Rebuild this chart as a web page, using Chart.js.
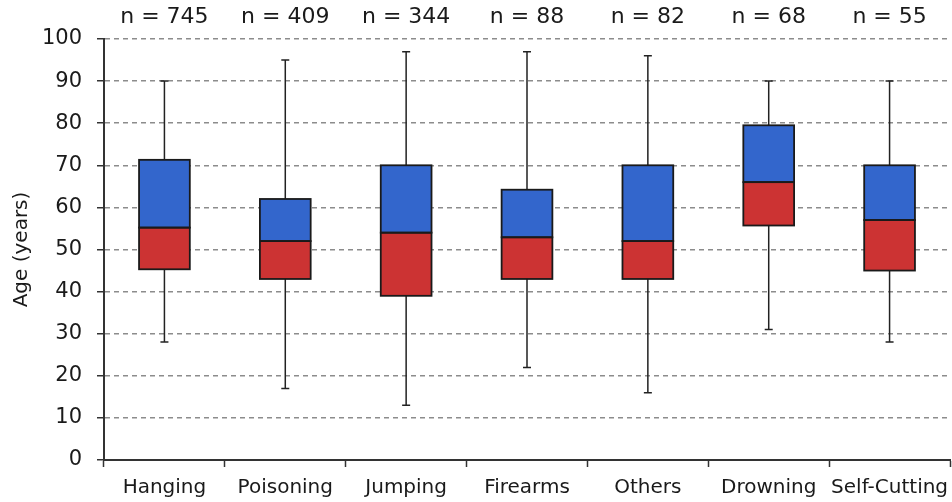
<!DOCTYPE html>
<html>
<head>
<meta charset="utf-8">
<script src="https://cdn.jsdelivr.net/npm/chart.js@4/dist/chart.umd.min.js"></script>
<style>
  body { margin: 0; background: #fff; }
  #wrap { width: 952px; height: 502px; }
</style>
</head>
<body>
<div id="wrap"><canvas id="box" width="952" height="502"></canvas></div>
<script>
// categories and sample sizes
const methods = ['Hanging', 'Poisoning', 'Jumping', 'Firearms', 'Others', 'Drowning', 'Self-Cutting'];
const counts = [745, 409, 344, 88, 82, 68, 55];

// box plot statistics
const mins    = [28, 17, 13, 22, 16, 31, 28];
const q1s     = [45.3, 43, 39, 43, 43, 55.7, 45];
const medians = [55.2, 52, 54, 52.9, 52, 66, 57];
const q3s     = [71.3, 62, 70, 64.2, 70, 79.5, 70];
const maxs    = [90, 95, 97, 97, 96, 90, 90];

const yTicks = [0, 10, 20, 30, 40, 50, 60, 70, 80, 90, 100];

const FONT = 'DejaVu Sans';

// whiskers, drawn behind the boxes
const whiskerPlugin = {
    id: 'whiskers',
    beforeDatasetsDraw(chart) {
        const c = chart.ctx;
        const x = chart.scales.x, y = chart.scales.y;
        c.save();
        c.strokeStyle = '#222';
        c.lineWidth = 1.5;
        methods.forEach((m, i) => {
            const px = x.getPixelForValue(i);
            const top = y.getPixelForValue(maxs[i]);
            const bot = y.getPixelForValue(mins[i]);
            c.beginPath();
            c.moveTo(px, top);
            c.lineTo(px, y.getPixelForValue(q3s[i]));
            c.moveTo(px, y.getPixelForValue(q1s[i]));
            c.lineTo(px, bot);
            c.moveTo(px - 4, top);
            c.lineTo(px + 4, top);
            c.moveTo(px - 4, bot);
            c.lineTo(px + 4, bot);
            c.stroke();
        });
        c.restore();
    },
    // box outlines, taken from the bar elements
    afterDatasetsDraw(chart) {
        const c = chart.ctx;
        c.save();
        c.strokeStyle = '#1a1a1a';
        c.lineWidth = 1.8;
        chart.data.datasets.forEach((ds, d) => {
            chart.getDatasetMeta(d).data.forEach(el => {
                const top = Math.min(el.y, el.base);
                const h = Math.abs(el.base - el.y);
                c.strokeRect(el.x - el.width / 2, top, el.width, h);
            });
        });
        c.restore();
    }
};

// "n = ..." labels above the plot
const countPlugin = {
    id: 'counts',
    afterDraw(chart) {
        const c = chart.ctx;
        const x = chart.scales.x;
        c.save();
        c.fillStyle = '#1a1a1a';
        c.font = '22px "' + FONT + '"';
        c.textAlign = 'center';
        c.textBaseline = 'middle';
        counts.forEach((n, i) => {
            c.fillText('n = ' + n, x.getPixelForValue(i), 17);
        });
        c.restore();
    }
};

new Chart(document.getElementById('box'), {
    type: 'bar',
    data: {
        labels: methods,
        datasets: [
            {
                label: 'Q1 to median',
                data: methods.map((m, i) => [q1s[i], medians[i]]),
                backgroundColor: '#CC3333',
                borderWidth: 0,
                grouped: false,
                barPercentage: 0.42,
                categoryPercentage: 1
            },
            {
                label: 'Median to Q3',
                data: methods.map((m, i) => [medians[i], q3s[i]]),
                backgroundColor: '#3366CC',
                borderWidth: 0,
                grouped: false,
                barPercentage: 0.42,
                categoryPercentage: 1
            }
        ]
    },
    options: {
        responsive: false,
        animation: false,
        layout: { padding: { top: 39, right: 2, left: 10, bottom: -7 } },
        plugins: {
            legend: { display: false },
            tooltip: { enabled: false }
        },
        scales: {
            x: {
                afterFit: axis => {
                    axis.paddingLeft = 0;
                    axis.paddingRight = 0;
                },
                grid: {
                    drawOnChartArea: false,
                    offset: true,
                    tickLength: 7,
                    tickColor: '#333',
                    tickWidth: 1.5
                },
                border: { color: '#333', width: 2 },
                ticks: {
                    color: '#1a1a1a',
                    font: { family: FONT, size: 20 },
                    padding: 9,
                    maxRotation: 0,
                    autoSkip: false
                }
            },
            y: {
                min: 0,
                max: 100,
                afterBuildTicks: axis => {
                    axis.ticks = yTicks.map(v => ({ value: v }));
                },
                afterFit: axis => {
                    axis.width = 94;
                },
                grid: {
                    color: '#8c8c8c',
                    lineWidth: 1.5,
                    tickLength: 7,
                    tickColor: '#333',
                    tickWidth: 1.5,
                    tickBorderDash: []
                },
                border: { color: '#333', width: 2, dash: [5, 4] },
                ticks: {
                    color: '#1a1a1a',
                    font: { family: FONT, size: 21 },
                    padding: 15
                },
                title: {
                    display: true,
                    text: 'Age (years)',
                    color: '#1a1a1a',
                    font: { family: FONT, size: 20 },
                    padding: { top: 0, bottom: 0 }
                }
            }
        }
    },
    plugins: [whiskerPlugin, countPlugin]
});
</script>
</body>
</html>
